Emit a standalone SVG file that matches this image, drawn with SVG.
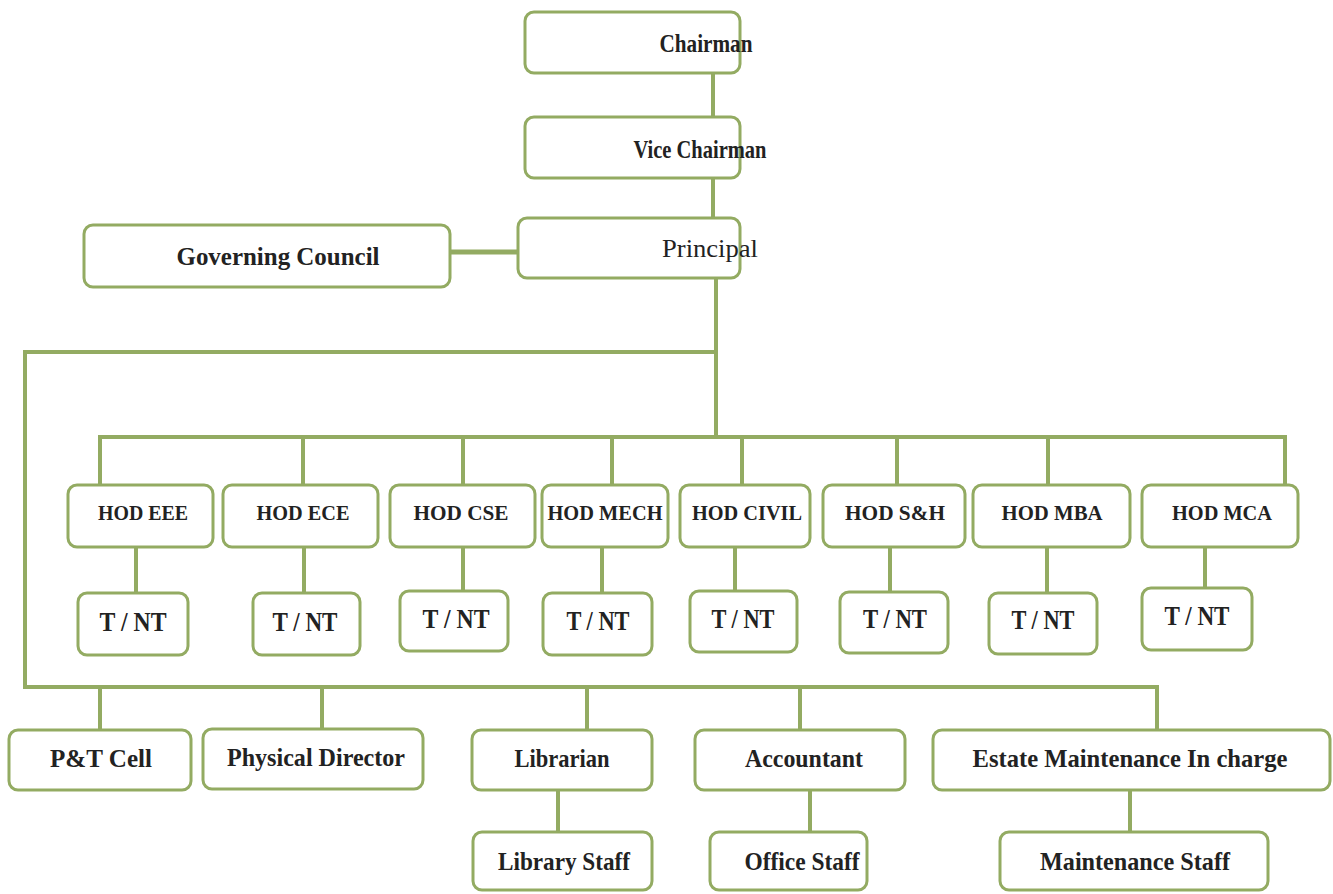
<svg xmlns="http://www.w3.org/2000/svg" width="1333" height="894" viewBox="0 0 1333 894">
<style>
.box{fill:#ffffff;stroke:#93ab62;stroke-width:3}
.con{fill:none;stroke:#93ab62;stroke-width:4}
.t{font-family:"Liberation Serif","Times New Roman",serif;font-weight:bold;fill:#222;text-anchor:middle}
.big{font-size:26px}
.hod{font-size:21px}
.tn{font-size:27px}
.reg{font-weight:normal}
</style>
<rect x="0" y="0" width="1333" height="894" fill="#ffffff"/>
<g id="connectors" class="con">
<path d="M713 73V117"/>
<path d="M713 178V218"/>
<path d="M450 252H518" stroke-width="5"/>
<path d="M716 278V437"/>
<path d="M716 352H25V687H1157V730"/>
<path d="M100 485V437H1285V485"/>
<path d="M303 437V485M463 437V485M612 437V485M742 437V485M897 437V485M1048 437V485"/>
<path d="M136 547V593M304 547V593M463 547V591M602 547V593M735 547V591M890 547V592M1047 547V593M1205 547V588"/>
<path d="M100 687V730M322 687V729M587 687V730M800 687V730"/>
<path d="M558 790V832M810 790V832M1130 790V832"/>
</g>
<g id="chairman"><rect class="box" x="525" y="12" width="215" height="61" rx="9"/><text class="t big" x="706" y="52" textLength="93" lengthAdjust="spacingAndGlyphs">Chairman</text></g>
<g id="vice-chairman"><rect class="box" x="525" y="117" width="215" height="61" rx="9"/><text class="t big" x="700" y="158" textLength="133" lengthAdjust="spacingAndGlyphs">Vice Chairman</text></g>
<g id="principal"><rect class="box" x="518" y="218" width="222" height="60" rx="9"/><text class="t big reg" x="710" y="257" textLength="96" lengthAdjust="spacingAndGlyphs">Principal</text></g>
<g id="governing-council"><rect class="box" x="84" y="225" width="366" height="62" rx="9"/><text class="t big" x="278" y="265" textLength="203" lengthAdjust="spacingAndGlyphs">Governing  Council</text></g>
<g id="hod-eee"><rect class="box" x="68" y="485" width="145" height="62" rx="9"/><text class="t hod" x="143" y="520" textLength="90" lengthAdjust="spacingAndGlyphs">HOD EEE</text></g>
<g id="hod-ece"><rect class="box" x="223" y="485" width="155" height="62" rx="9"/><text class="t hod" x="303" y="520" textLength="93" lengthAdjust="spacingAndGlyphs">HOD ECE</text></g>
<g id="hod-cse"><rect class="box" x="390" y="485" width="145" height="62" rx="9"/><text class="t hod" x="461" y="520" textLength="95" lengthAdjust="spacingAndGlyphs">HOD CSE</text></g>
<g id="hod-mech"><rect class="box" x="542" y="485" width="126" height="62" rx="9"/><text class="t hod" x="605" y="520" textLength="115" lengthAdjust="spacingAndGlyphs">HOD MECH</text></g>
<g id="hod-civil"><rect class="box" x="680" y="485" width="130" height="62" rx="9"/><text class="t hod" x="747" y="520" textLength="110" lengthAdjust="spacingAndGlyphs">HOD CIVIL</text></g>
<g id="hod-sh"><rect class="box" x="823" y="485" width="142" height="62" rx="9"/><text class="t hod" x="895" y="520" textLength="100" lengthAdjust="spacingAndGlyphs">HOD S&amp;H</text></g>
<g id="hod-mba"><rect class="box" x="973" y="485" width="157" height="62" rx="9"/><text class="t hod" x="1052" y="520" textLength="101" lengthAdjust="spacingAndGlyphs">HOD MBA</text></g>
<g id="hod-mca"><rect class="box" x="1142" y="485" width="156" height="62" rx="9"/><text class="t hod" x="1222" y="520" textLength="100" lengthAdjust="spacingAndGlyphs">HOD MCA</text></g>
<g id="tnt-eee"><rect class="box" x="78" y="593" width="110" height="62" rx="9"/><text class="t tn" x="133" y="631" textLength="67" lengthAdjust="spacingAndGlyphs">T / NT</text></g>
<g id="tnt-ece"><rect class="box" x="253" y="593" width="107" height="62" rx="9"/><text class="t tn" x="305" y="631" textLength="65" lengthAdjust="spacingAndGlyphs">T / NT</text></g>
<g id="tnt-cse"><rect class="box" x="400" y="591" width="108" height="60" rx="9"/><text class="t tn" x="456" y="628" textLength="67" lengthAdjust="spacingAndGlyphs">T / NT</text></g>
<g id="tnt-mech"><rect class="box" x="543" y="593" width="109" height="62" rx="9"/><text class="t tn" x="598" y="630" textLength="63" lengthAdjust="spacingAndGlyphs">T / NT</text></g>
<g id="tnt-civil"><rect class="box" x="690" y="591" width="107" height="61" rx="9"/><text class="t tn" x="743" y="628" textLength="63" lengthAdjust="spacingAndGlyphs">T / NT</text></g>
<g id="tnt-sh"><rect class="box" x="840" y="592" width="108" height="61" rx="9"/><text class="t tn" x="895" y="628" textLength="64" lengthAdjust="spacingAndGlyphs">T / NT</text></g>
<g id="tnt-mba"><rect class="box" x="989" y="593" width="108" height="61" rx="9"/><text class="t tn" x="1043" y="629" textLength="63" lengthAdjust="spacingAndGlyphs">T / NT</text></g>
<g id="tnt-mca"><rect class="box" x="1142" y="588" width="110" height="62" rx="9"/><text class="t tn" x="1197" y="625" textLength="65" lengthAdjust="spacingAndGlyphs">T / NT</text></g>
<g id="pt-cell"><rect class="box" x="9" y="730" width="182" height="60" rx="9"/><text class="t big" x="101" y="767" textLength="102" lengthAdjust="spacingAndGlyphs">P&amp;T Cell</text></g>
<g id="physical-director"><rect class="box" x="203" y="729" width="220" height="60" rx="9"/><text class="t big" x="316" y="766" textLength="178" lengthAdjust="spacingAndGlyphs">Physical Director</text></g>
<g id="librarian"><rect class="box" x="472" y="730" width="180" height="60" rx="9"/><text class="t big" x="562" y="767" textLength="95" lengthAdjust="spacingAndGlyphs">Librarian</text></g>
<g id="accountant"><rect class="box" x="695" y="730" width="210" height="60" rx="9"/><text class="t big" x="804" y="767" textLength="118" lengthAdjust="spacingAndGlyphs">Accountant</text></g>
<g id="estate"><rect class="box" x="933" y="730" width="397" height="60" rx="9"/><text class="t big" x="1130" y="767" textLength="315" lengthAdjust="spacingAndGlyphs">Estate Maintenance In charge</text></g>
<g id="library-staff"><rect class="box" x="473" y="832" width="179" height="58" rx="9"/><text class="t big" x="564" y="870" textLength="132" lengthAdjust="spacingAndGlyphs">Library Staff</text></g>
<g id="office-staff"><rect class="box" x="710" y="832" width="157" height="58" rx="9"/><text class="t big" x="802" y="870" textLength="115" lengthAdjust="spacingAndGlyphs">Office Staff</text></g>
<g id="maintenance-staff"><rect class="box" x="1000" y="832" width="268" height="58" rx="9"/><text class="t big" x="1135" y="870" textLength="190" lengthAdjust="spacingAndGlyphs">Maintenance Staff</text></g>
</svg>
